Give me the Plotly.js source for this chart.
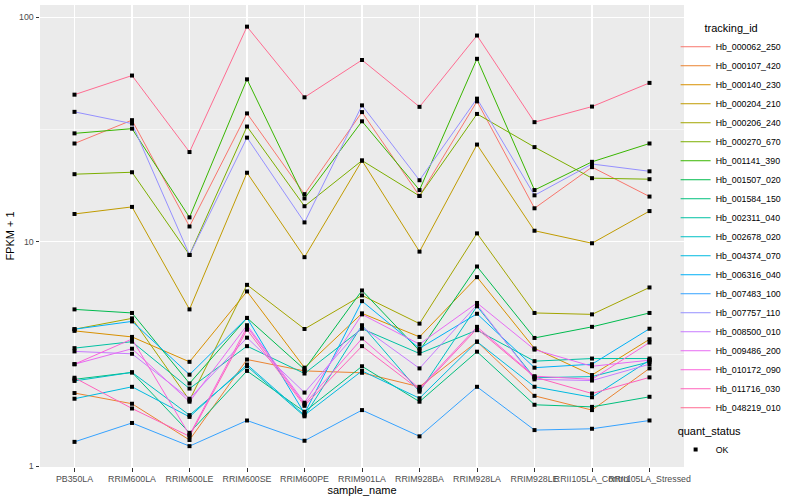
<!DOCTYPE html>
<html>
<head>
<meta charset="utf-8">
<script src="https://cdn.plot.ly/plotly-3.0.1.min.js"></script>
<style>html,body{margin:0;padding:0;background:#fff;}#chart{width:800px;height:500px;}</style>
</head>
<body>
<div id="chart"></div>
<script>
// ---- data ----
const samples = ['PB350LA','RRIM600LA','RRIM600LE','RRIM600SE','RRIM600PE','RRIM901LA','RRIM928BA','RRIM928LA','RRIM928LE','RRII105LA_Control','RRII105LA_Stressed'];
const trackingIds = ['Hb_000062_250','Hb_000107_420','Hb_000140_230','Hb_000204_210','Hb_000206_240','Hb_000270_670','Hb_001141_390','Hb_001507_020','Hb_001584_150','Hb_002311_040','Hb_002678_020','Hb_004374_070','Hb_006316_040','Hb_007483_100','Hb_007757_110','Hb_008500_010','Hb_009486_200','Hb_010172_090','Hb_011716_030','Hb_048219_010'];
const Hb_000062_250 = [27.4, 34.8, 11.7, 37.3, 16.3, 37.8, 16.0, 42.2, 14.1, 21.5, 15.9];
const Hb_000107_420 = [2.12, 1.90, 1.31, 2.99, 2.66, 2.61, 2.26, 3.59, 2.06, 1.78, 2.73];
const Hb_000140_230 = [4.01, 3.77, 2.92, 6.01, 2.75, 4.80, 3.77, 6.96, 3.35, 2.55, 3.68];
const Hb_000204_210 = [13.3, 14.3, 5.0, 20.3, 8.54, 23.0, 9.04, 27.1, 11.2, 9.85, 13.7];
const Hb_000206_240 = [4.08, 4.56, 1.97, 6.43, 4.09, 5.77, 4.32, 10.9, 4.82, 4.75, 6.26];
const Hb_000270_670 = [20.0, 20.4, 8.74, 32.6, 14.4, 23.0, 16.0, 37.1, 26.4, 19.2, 19.0];
const Hb_001141_390 = [30.4, 31.9, 12.85, 52.9, 15.6, 34.4, 17.0, 65.3, 17.0, 22.7, 27.4];
const Hb_001507_020 = [5.0, 4.82, 2.34, 4.58, 2.70, 6.07, 3.27, 7.76, 3.73, 4.18, 4.82];
const Hb_001584_150 = [2.44, 2.62, 1.41, 2.66, 1.75, 2.79, 1.94, 3.24, 1.88, 1.84, 2.04];
const Hb_002311_040 = [3.36, 3.59, 2.22, 3.43, 2.59, 4.10, 3.18, 4.04, 2.94, 3.02, 3.02];
const Hb_002678_020 = [2.40, 2.62, 1.69, 2.79, 1.67, 4.25, 2.15, 5.16, 2.48, 2.51, 2.92];
const Hb_004374_070 = [2.00, 2.26, 1.66, 2.84, 1.69, 2.66, 2.01, 3.59, 2.26, 2.03, 2.97];
const Hb_006316_040 = [4.08, 4.42, 2.56, 4.58, 1.72, 5.44, 3.35, 4.78, 2.75, 2.85, 4.10];
const Hb_007483_100 = [1.285, 1.56, 1.23, 1.60, 1.30, 1.78, 1.36, 2.26, 1.45, 1.47, 1.60];
const Hb_007757_110 = [37.9, 33.6, 8.74, 29.1, 12.2, 40.5, 18.8, 43.4, 16.1, 22.2, 20.6];
const Hb_008500_010 = [3.25, 3.17, 2.00, 3.74, 2.13, 4.18, 2.73, 5.24, 2.44, 2.41, 2.85];
const Hb_009486_200 = [2.85, 3.34, 1.94, 4.25, 1.92, 4.75, 3.50, 5.34, 3.31, 2.79, 2.97];
const Hb_010172_090 = [2.85, 3.69, 1.38, 4.18, 1.89, 3.71, 2.22, 4.18, 2.52, 2.44, 3.56];
const Hb_011716_030 = [2.48, 1.81, 1.36, 4.06, 1.86, 3.43, 2.19, 4.10, 2.50, 2.11, 2.49];
const Hb_048219_010 = [45.2, 55.0, 25.1, 90.8, 44.0, 64.5, 39.9, 82.9, 34.1, 40.0, 51.0];
const yTickVals = [1, 10, 100];
const yTickText = ['1', '10', '100'];
const yMinorVals = [3.1623, 31.623];

// ---- styles ----
const palette = ['#F8766D','#EA8331','#D89000','#C09B00','#A3A500','#7CAE00','#39B600','#00BB4E','#00BF7D','#00C1A3','#00BFC4','#00BAE0','#00B0F6','#35A2FF','#9590FF','#C77CFF','#E76BF3','#FA62DB','#FF62BC','#FF6C91'];
const seriesValues = [Hb_000062_250,Hb_000107_420,Hb_000140_230,Hb_000204_210,Hb_000206_240,Hb_000270_670,Hb_001141_390,Hb_001507_020,Hb_001584_150,Hb_002311_040,Hb_002678_020,Hb_004374_070,Hb_006316_040,Hb_007483_100,Hb_007757_110,Hb_008500_010,Hb_009486_200,Hb_010172_090,Hb_011716_030,Hb_048219_010];

const FONT = 'Liberation Sans, Arial, Helvetica, sans-serif';
const traces = [];
trackingIds.forEach((id, i) => {
  traces.push({
    type: 'scatter', mode: 'lines', name: id,
    x: samples, y: seriesValues[i],
    line: {color: palette[i], width: 1},
    legend: 'legend', hoverinfo: 'name+y'
  });
});
// points (quant_status = OK)
const px = [], py = [];
seriesValues.forEach(v => v.forEach((val, j) => { px.push(samples[j]); py.push(val); }));
traces.push({
  type: 'scatter', mode: 'markers', name: 'OK', x: px, y: py,
  marker: {color: '#000000', size: 4, symbol: 'square'},
  legend: 'legend2'
});

const layout = {
  width: 800, height: 500,
  margin: {l: 40, r: 115.5, t: 5, b: 32.7, pad: 0},
  paper_bgcolor: '#FFFFFF', plot_bgcolor: '#EBEBEB',
  font: {family: FONT, size: 8.8, color: '#4D4D4D'},
  showlegend: true,
  xaxis: {
    type: 'category', range: [-0.6, 10.6],
    showgrid: true, gridcolor: '#FFFFFF', gridwidth: 1.1,
    zeroline: false, showline: false,
    ticks: 'outside', ticklen: 3.5, tickwidth: 1, tickcolor: '#333333',
    tickangle: 0, tickfont: {family: FONT, size: 8.8, color: '#4D4D4D'},
    title: {text: 'sample_name', font: {family: FONT, size: 11, color: '#000000'}, standoff: 3}
  },
  yaxis: {
    type: 'log', range: [-0.003, 2.0545],
    tickmode: 'array', tickvals: yTickVals, ticktext: yTickText,
    showgrid: true, gridcolor: '#FFFFFF', gridwidth: 1.1,
    minor: {tickmode: 'array', tickvals: yMinorVals, showgrid: true, gridcolor: '#FFFFFF', gridwidth: 0.55, ticks: ''},
    zeroline: false, showline: false,
    ticks: 'outside', ticklen: 3.5, tickwidth: 1, tickcolor: '#333333',
    tickfont: {family: FONT, size: 8.8, color: '#4D4D4D'},
    title: {text: 'FPKM + 1', font: {family: FONT, size: 11, color: '#000000'}, standoff: 2}
  },
  legend: {
    x: 0.987, xanchor: 'left', y: 0.972, yanchor: 'top',
    bgcolor: 'rgba(0,0,0,0)', itemwidth: 30, tracegroupgap: 0,
    font: {family: FONT, size: 8.8, color: '#000000'},
    title: {text: 'tracking_id', side: 'top center', font: {family: FONT, size: 11, color: '#000000'}}
  },
  legend2: {
    x: 0.987, xanchor: 'left', y: 0.10, yanchor: 'top',
    bgcolor: 'rgba(0,0,0,0)', itemwidth: 30,
    font: {family: FONT, size: 8.8, color: '#000000'},
    title: {text: 'quant_status', font: {family: FONT, size: 11, color: '#000000'}}
  }
};
Plotly.newPlot('chart', traces, layout, {displayModeBar: false, staticPlot: true});
</script>
</body>
</html>
